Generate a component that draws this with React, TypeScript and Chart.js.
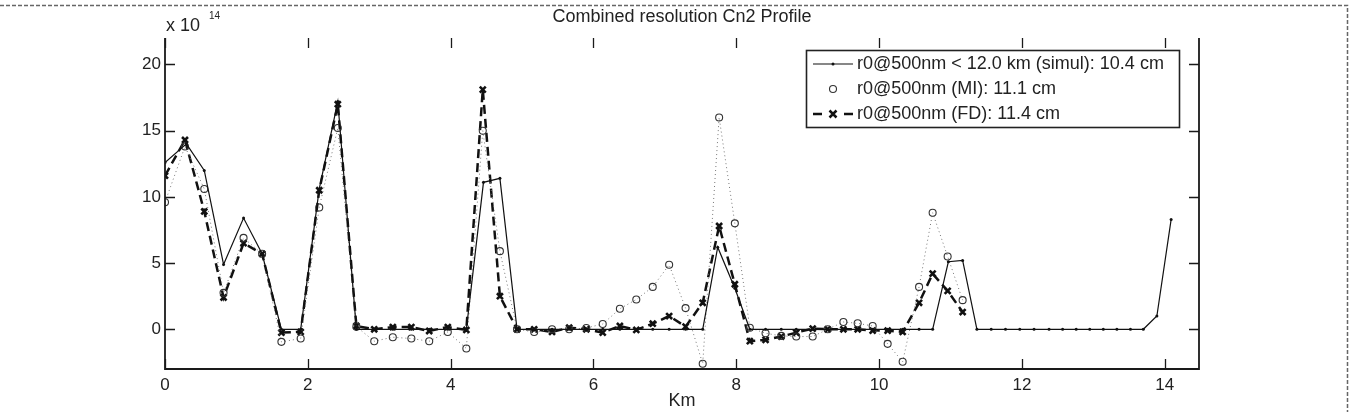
import { useEffect, useRef } from 'react';
import { Chart, registerables } from 'chart.js';

Chart.register(...registerables);

const FONT = '"Liberation Sans", Arial, Helvetica, sans-serif';

// Height sampling (km) for the MI and FD retrievals
const kmRetrieval = [0, 0.28, 0.55, 0.82, 1.10, 1.36, 1.63, 1.90, 2.16, 2.42, 2.68, 2.93, 3.19, 3.45, 3.70, 3.96, 4.22, 4.45, 4.69, 4.93, 5.17, 5.42, 5.66, 5.90, 6.13, 6.37, 6.60, 6.83, 7.06, 7.29, 7.53, 7.76, 7.98, 8.19, 8.41, 8.63, 8.84, 9.07, 9.28, 9.50, 9.70, 9.91, 10.12, 10.33, 10.56, 10.75, 10.96, 11.17];

// r0@500nm (FD) profile, units of 1e-14
const fdValues = [11.6, 14.3, 8.9, 2.4, 6.5, 5.7, -0.25, -0.2, 10.5, 17.0, 0.25, 0, 0.17, 0.17, -0.13, 0.17, -0.05, 18.1, 2.5, 0, 0, -0.2, 0.12, 0, -0.25, 0.25, -0.05, 0.42, 1.0, 0.2, 2.0, 7.8, 3.4, -0.9, -0.8, -0.55, -0.25, 0.05, 0, 0, 0, -0.1, -0.1, -0.2, 2.0, 4.2, 2.9, 1.3];

// r0@500nm (MI) profile, units of 1e-14
const miValues = [9.6, 13.8, 10.6, 2.75, 6.9, 5.7, -0.95, -0.7, 9.2, 15.2, 0.2, -0.9, -0.6, -0.7, -0.9, -0.2, -1.45, 15.0, 5.9, 0, -0.2, 0, 0, 0.1, 0.4, 1.55, 2.25, 3.2, 4.87, 1.6, -2.6, 16.0, 8.0, 0.12, -0.3, -0.5, -0.55, -0.55, 0, 0.55, 0.45, 0.25, -1.1, -2.45, 3.2, 8.8, 5.5, 2.2];

// Simulated profile heights (km) and values
const kmSimul = [0, 0.30, 0.55, 0.82, 1.10, 1.36, 1.63, 1.90, 2.16, 2.42, 2.68, 2.93, 3.19, 3.45, 3.70, 3.96, 4.22, 4.46, 4.69, 4.93, 5.17, 5.42, 5.66, 5.90, 6.13, 6.37, 6.60, 6.83, 7.06, 7.29, 7.53, 7.74, 7.98, 8.19, 8.41, 8.63, 8.84, 9.07, 9.28, 9.50, 9.70, 9.91, 10.12, 10.33, 10.56, 10.75, 10.97, 11.17, 11.37, 11.57, 11.77, 11.97, 12.17, 12.38, 12.57, 12.76, 12.95, 13.14, 13.33, 13.52, 13.70, 13.89, 14.09];
const simulValues = [12.6, 14.0, 12.0, 4.9, 8.4, 5.7, 0, 0, 10.6, 17.2, 0, 0, 0, 0, 0, 0, 0, 11.1, 11.4, 0, 0, 0, 0, 0, 0, 0, 0, 0, 0, 0, 0, 6.2, 3.1, 0, 0, 0, 0, 0, 0, 0, 0, 0, 0, 0, 0, 0, 5.1, 5.2, 0, 0, 0, 0, 0, 0, 0, 0, 0, 0, 0, 0, 0, 1.0, 8.3];

const xTicks = [0, 2, 4, 6, 8, 10, 12, 14];
const yTicks = [0, 5, 10, 15, 20];

const titleText = 'Combined resolution Cn2 Profile';
const xLabel = 'Km';
const legendLabels = [
  'r0@500nm < 12.0 km (simul): 10.4 cm',
  'r0@500nm (MI): 11.1 cm',
  'r0@500nm (FD): 11.4 cm',
];

const overlayPlugin = {
  id: 'overlay',
  afterDraw(chart: any) {
    const ctx = chart.ctx as CanvasRenderingContext2D;
    const { left, right, top, bottom } = chart.chartArea;
    const xs = chart.scales.x;
    const ys = chart.scales.y;
    ctx.save();

    // dashed figure border (top and right)
    ctx.strokeStyle = '#666';
    ctx.lineWidth = 1.5;
    ctx.setLineDash([4, 2]);
    ctx.beginPath();
    ctx.moveTo(0, 5.5);
    ctx.lineTo(1347.5, 5.5);
    ctx.lineTo(1347.5, 412);
    ctx.stroke();
    ctx.setLineDash([]);

    // axes
    ctx.strokeStyle = '#1a1a1a';
    ctx.lineWidth = 1.8;
    ctx.beginPath();
    ctx.moveTo(left, top);
    ctx.lineTo(left, bottom);
    ctx.lineTo(right, bottom);
    ctx.lineTo(right, top);
    ctx.stroke();

    // inward ticks
    ctx.lineWidth = 1.3;
    ctx.beginPath();
    for (const t of xs.ticks) {
      const p = Math.round(xs.getPixelForValue(t.value)) + 0.5;
      ctx.moveTo(p, bottom);
      ctx.lineTo(p, bottom - 10);
      ctx.moveTo(p, top);
      ctx.lineTo(p, top + 10);
    }
    for (const t of ys.ticks) {
      const p = Math.round(ys.getPixelForValue(t.value)) + 0.5;
      ctx.moveTo(left, p);
      ctx.lineTo(left + 10, p);
      ctx.moveTo(right, p);
      ctx.lineTo(right - 10, p);
    }
    ctx.stroke();

    // title
    ctx.fillStyle = '#222';
    ctx.textAlign = 'center';
    ctx.textBaseline = 'middle';
    ctx.font = `18px ${FONT}`;
    ctx.fillText(titleText, (left + right) / 2, 17);

    // x label
    ctx.fillText(xLabel, (left + right) / 2, 401);

    // exponent
    ctx.textAlign = 'left';
    ctx.fillText('x 10', 166, 26);
    ctx.font = `10px ${FONT}`;
    ctx.fillText('14', 209, 16);

    // legend
    const bx = 806.5, by = 50.5, bw = 373, bh = 77;
    ctx.fillStyle = '#fff';
    ctx.fillRect(bx, by, bw, bh);
    ctx.strokeStyle = '#222';
    ctx.lineWidth = 1.6;
    ctx.strokeRect(bx, by, bw, bh);
    const rows = [64, 89, 114];
    const x0 = 813, x1 = 853, xm = 833;
    // simul
    ctx.strokeStyle = '#111';
    ctx.lineWidth = 1.2;
    ctx.beginPath();
    ctx.moveTo(x0, rows[0]);
    ctx.lineTo(x1, rows[0]);
    ctx.stroke();
    ctx.fillStyle = '#111';
    ctx.beginPath();
    ctx.arc(xm, rows[0], 1.5, 0, Math.PI * 2);
    ctx.fill();
    // MI
    ctx.strokeStyle = '#333';
    ctx.lineWidth = 1.1;
    ctx.beginPath();
    ctx.arc(xm, rows[1], 3.5, 0, Math.PI * 2);
    ctx.stroke();
    // FD
    ctx.strokeStyle = '#111';
    ctx.lineWidth = 2.5;
    ctx.beginPath();
    ctx.moveTo(x0, rows[2]);
    ctx.lineTo(x0 + 9, rows[2]);
    ctx.moveTo(x1 - 9, rows[2]);
    ctx.lineTo(x1, rows[2]);
    const r = 3.5;
    ctx.moveTo(xm - r, rows[2] - r);
    ctx.lineTo(xm + r, rows[2] + r);
    ctx.moveTo(xm + r, rows[2] - r);
    ctx.lineTo(xm - r, rows[2] + r);
    ctx.stroke();

    ctx.fillStyle = '#222';
    ctx.font = `18px ${FONT}`;
    ctx.textAlign = 'left';
    legendLabels.forEach((s, i) => ctx.fillText(s, 857, rows[i]));

    ctx.restore();
  },
};

export default function App() {
  const ref = useRef<HTMLCanvasElement | null>(null);

  useEffect(() => {
    document.body.style.margin = '0';
    const canvas = ref.current;
    if (!canvas) return;

    const simulData = kmSimul.map((x, i) => ({ x, y: simulValues[i] }));
    const miData = kmRetrieval.map((x, i) => ({ x, y: miValues[i] }));
    const fdData = kmRetrieval.map((x, i) => ({ x, y: fdValues[i] }));

    const chart = new Chart(canvas, {
      type: 'line',
      data: {
        datasets: [
          {
            label: legendLabels[0],
            data: simulData,
            borderColor: '#111',
            borderWidth: 1.2,
            pointStyle: 'circle',
            pointRadius: 1.5,
            pointBackgroundColor: '#111',
            pointBorderWidth: 0,
            tension: 0,
          },
          {
            label: legendLabels[1],
            data: miData,
            borderColor: '#777',
            borderWidth: 1,
            borderDash: [1, 3],
            pointStyle: 'circle',
            pointRadius: 3.5,
            pointBorderColor: '#333',
            pointBackgroundColor: 'rgba(255,255,255,0)',
            pointBorderWidth: 1.1,
            tension: 0,
          },
          {
            label: legendLabels[2],
            data: fdData,
            borderColor: '#111',
            borderWidth: 2.5,
            borderDash: [9, 5],
            pointStyle: 'crossRot',
            pointRadius: 4.2,
            pointBorderColor: '#111',
            pointBorderWidth: 2.6,
            tension: 0,
          },
        ],
      },
      options: {
        animation: false,
        responsive: false,
        devicePixelRatio: 1,
        events: [],
        layout: { padding: { left: 0, top: 38, right: 152, bottom: 0 } },
        plugins: {
          legend: { display: false },
          title: { display: false },
          tooltip: { enabled: false },
        },
        scales: {
          x: {
            type: 'linear',
            min: 0,
            max: 14.48,
            afterFit: (s: any) => {
              s.height = 43;
            },
            afterBuildTicks: (s: any) => {
              s.ticks = xTicks.map((v) => ({ value: v }));
            },
            grid: { display: false, drawTicks: false },
            border: { display: false },
            ticks: {
              font: { family: FONT, size: 17 },
              color: '#222',
              padding: 6,
              maxRotation: 0,
              autoSkip: false,
            },
          },
          y: {
            type: 'linear',
            min: -3,
            max: 22,
            afterFit: (s: any) => {
              s.width = 165;
            },
            afterBuildTicks: (s: any) => {
              s.ticks = yTicks.map((v) => ({ value: v }));
            },
            grid: { display: false, drawTicks: false },
            border: { display: false },
            ticks: {
              font: { family: FONT, size: 17 },
              color: '#222',
              padding: 4,
              autoSkip: false,
            },
          },
        },
      },
      plugins: [overlayPlugin],
    });

    return () => chart.destroy();
  }, []);

  return (
    <div style={{ width: 1351, height: 412 }}>
      <canvas ref={ref} width={1351} height={412} style={{ display: 'block' }} />
    </div>
  );
}
